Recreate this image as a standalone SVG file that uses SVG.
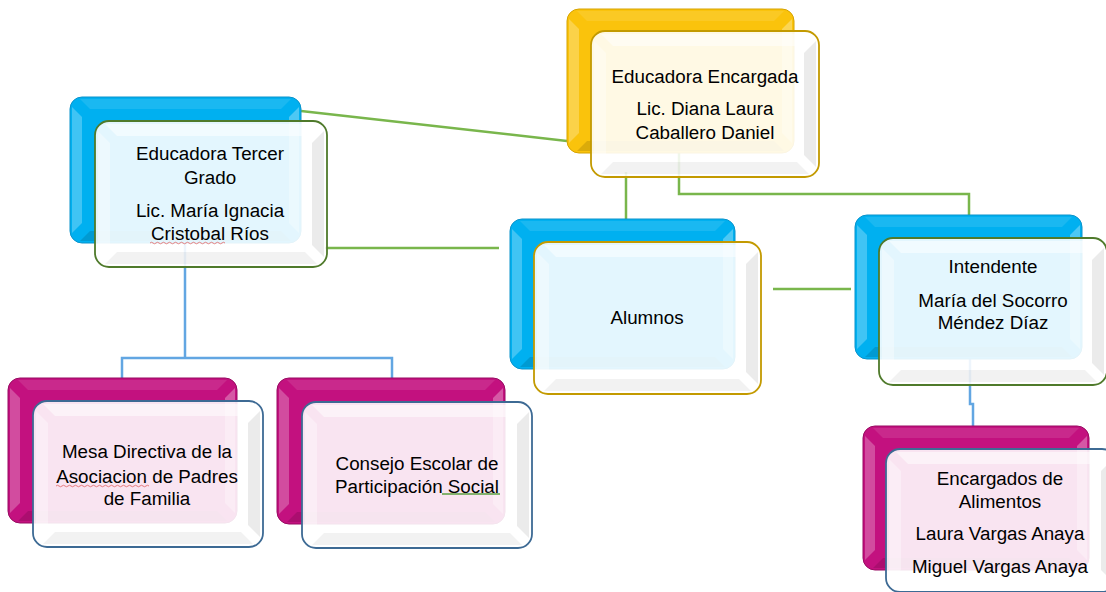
<svg xmlns="http://www.w3.org/2000/svg" width="1106" height="592" viewBox="0 0 1106 592">
<style>
.bk{stroke-width:1}
.b-blue{fill:#00b0f0;stroke:#0a93cb}
.b-gold{fill:#fac30c;stroke:#d6a300}
.b-mag{fill:#c3117f;stroke:#980b62}
.bl{fill:#fff;opacity:.25}
.br{fill:#fff;opacity:.3}
.bt{fill:#fff;opacity:.1}
.bb{fill:#000;opacity:.12}
.fr{fill:#fff;fill-opacity:.89;stroke-width:1.8}
.f-gold{stroke:#c39a00}
.f-green{stroke:#4f7a2b}
.f-blue{stroke:#3d6a94}
.fR{fill:#000;opacity:.08}
.fB{fill:#000;opacity:.05}
.fT{fill:#fff;opacity:.5}
.fL{fill:#fff;opacity:.35}
.lbl{font-family:'Liberation Sans',Arial,sans-serif;font-size:18.8px;fill:#000;text-anchor:middle}
.cg{stroke:#79b64c;stroke-width:2.5;fill:none}
.cb{stroke:#62a6e2;stroke-width:2.5;fill:none}
.wr{stroke:#e06060;stroke-width:1;fill:none;opacity:.8}
.wg{stroke:#5aa040;stroke-width:1.5;fill:none}
</style>
<rect width="1106" height="592" fill="#fff"/>
<g id="connectors">
<path class="cg" d="M301,111 L567,141"/>
<path class="cg" d="M626,172 V219"/>
<path class="cg" d="M679,150 V194 H969 V215"/>
<path class="cg" d="M325,248 H499"/>
<path class="cg" d="M773,289 H851"/>
<path class="cb" d="M185,243 V358 M122,378 V358 H392 V378"/>
<path class="cb" d="M970,359 V404 H973 V426"/>
</g>
<g id="node-educadora-encargada">
<rect class="bk b-gold" x="567" y="9" width="227" height="144" rx="12"/>
<path class="bl" d="M569,19 l10,10 v104 l-10,10 z"/>
<path class="br" d="M792,19 l-10,10 v104 l10,10 z"/>
<path class="bt" d="M577,11 l10,10 h187 l10,-10 z"/>
<path class="bb" d="M577,151 l10,-10 h187 l10,10 z"/>
<rect class="fr f-gold" x="591" y="31" width="228" height="146" rx="14"/>
<path class="fR" d="M816,41 l-12,12 v102 l12,12 z"/>
<path class="fB" d="M601,174 l12,-12 h184 l12,12 z"/>
<path class="fT" d="M601,34 l12,12 h184 l12,-12 z"/>
<path class="fL" d="M594,41 l12,12 v102 l-12,12 z"/>
<text class="lbl" x="705" y="83">Educadora Encargada</text>
<text class="lbl" x="705" y="115">Lic. Diana Laura</text>
<text class="lbl" x="705" y="139">Caballero Daniel</text>
</g>
<g id="node-educadora-tercer-grado">
<rect class="bk b-blue" x="70" y="97" width="231" height="146" rx="12"/>
<path class="bl" d="M72,107 l10,10 v106 l-10,10 z"/>
<path class="br" d="M299,107 l-10,10 v106 l10,10 z"/>
<path class="bt" d="M80,99 l10,10 h191 l10,-10 z"/>
<path class="bb" d="M80,241 l10,-10 h191 l10,10 z"/>
<rect class="fr f-green" x="95" y="121" width="232" height="146" rx="14"/>
<path class="fR" d="M324,131 l-12,12 v102 l12,12 z"/>
<path class="fB" d="M105,264 l12,-12 h188 l12,12 z"/>
<path class="fT" d="M105,124 l12,12 h188 l12,-12 z"/>
<path class="fL" d="M98,131 l12,12 v102 l-12,12 z"/>
<text class="lbl" x="210" y="160">Educadora Tercer</text>
<text class="lbl" x="210" y="184">Grado</text>
<text class="lbl" x="210" y="217">Lic. María Ignacia</text>
<text class="lbl" x="210" y="240">Cristobal Ríos</text>
<path class="wr" d="M150,243 q1.5,-1.5 3,0 t3,0 t3,0 t3,0 t3,0 t3,0 t3,0 t3,0 t3,0 t3,0 t3,0 t3,0 t3,0 t3,0 t3,0 t3,0 t3,0 t3,0 t3,0 t3,0 t3,0 t3,0 t3,0 t3,0 t3,0"/>
</g>
<g id="node-alumnos">
<rect class="bk b-blue" x="510" y="219" width="225" height="150" rx="12"/>
<path class="bl" d="M512,229 l10,10 v110 l-10,10 z"/>
<path class="br" d="M733,229 l-10,10 v110 l10,10 z"/>
<path class="bt" d="M520,221 l10,10 h185 l10,-10 z"/>
<path class="bb" d="M520,367 l10,-10 h185 l10,10 z"/>
<rect class="fr f-gold" x="534" y="242" width="227" height="152" rx="14"/>
<path class="fR" d="M758,252 l-12,12 v108 l12,12 z"/>
<path class="fB" d="M544,391 l12,-12 h183 l12,12 z"/>
<path class="fT" d="M544,245 l12,12 h183 l12,-12 z"/>
<path class="fL" d="M537,252 l12,12 v108 l-12,12 z"/>
<text class="lbl" x="647" y="324">Alumnos</text>
</g>
<g id="node-intendente">
<rect class="bk b-blue" x="855" y="215" width="227" height="144" rx="12"/>
<path class="bl" d="M857,225 l10,10 v104 l-10,10 z"/>
<path class="br" d="M1080,225 l-10,10 v104 l10,10 z"/>
<path class="bt" d="M865,217 l10,10 h187 l10,-10 z"/>
<path class="bb" d="M865,357 l10,-10 h187 l10,10 z"/>
<rect class="fr f-green" x="879" y="238" width="228" height="147" rx="14"/>
<path class="fR" d="M1104,248 l-12,12 v103 l12,12 z"/>
<path class="fB" d="M889,382 l12,-12 h184 l12,12 z"/>
<path class="fT" d="M889,241 l12,12 h184 l12,-12 z"/>
<path class="fL" d="M882,248 l12,12 v103 l-12,12 z"/>
<text class="lbl" x="993" y="273">Intendente</text>
<text class="lbl" x="993" y="307">María del Socorro</text>
<text class="lbl" x="993" y="329">Méndez Díaz</text>
</g>
<g id="node-mesa-directiva">
<rect class="bk b-mag" x="8" y="378" width="229" height="145" rx="12"/>
<path class="bl" d="M10,388 l10,10 v105 l-10,10 z"/>
<path class="br" d="M235,388 l-10,10 v105 l10,10 z"/>
<path class="bt" d="M18,380 l10,10 h189 l10,-10 z"/>
<path class="bb" d="M18,521 l10,-10 h189 l10,10 z"/>
<rect class="fr f-blue" x="33" y="401" width="230" height="146" rx="14"/>
<path class="fR" d="M260,411 l-12,12 v102 l12,12 z"/>
<path class="fB" d="M43,544 l12,-12 h186 l12,12 z"/>
<path class="fT" d="M43,404 l12,12 h186 l12,-12 z"/>
<path class="fL" d="M36,411 l12,12 v102 l-12,12 z"/>
<text class="lbl" x="147" y="458">Mesa Directiva de la</text>
<text class="lbl" x="147" y="483">Asociacion de Padres</text>
<text class="lbl" x="147" y="505">de Familia</text>
<path class="wr" d="M56,486 q1.5,-1.5 3,0 t3,0 t3,0 t3,0 t3,0 t3,0 t3,0 t3,0 t3,0 t3,0 t3,0 t3,0 t3,0 t3,0 t3,0 t3,0 t3,0 t3,0 t3,0 t3,0 t3,0 t3,0 t3,0 t3,0 t3,0 t3,0 t3,0 t3,0 t3,0 t3,0 t3,0"/>
</g>
<g id="node-consejo-escolar">
<rect class="bk b-mag" x="277" y="378" width="228" height="146" rx="12"/>
<path class="bl" d="M279,388 l10,10 v106 l-10,10 z"/>
<path class="br" d="M503,388 l-10,10 v106 l10,10 z"/>
<path class="bt" d="M287,380 l10,10 h188 l10,-10 z"/>
<path class="bb" d="M287,522 l10,-10 h188 l10,10 z"/>
<rect class="fr f-blue" x="302" y="402" width="230" height="146" rx="14"/>
<path class="fR" d="M529,412 l-12,12 v102 l12,12 z"/>
<path class="fB" d="M312,545 l12,-12 h186 l12,12 z"/>
<path class="fT" d="M312,405 l12,12 h186 l12,-12 z"/>
<path class="fL" d="M305,412 l12,12 v102 l-12,12 z"/>
<text class="lbl" x="417" y="470">Consejo Escolar de</text>
<text class="lbl" x="417" y="493">Participación Social</text>
<path class="wg" d="M442,494 H500"/>
</g>
<g id="node-encargados-alimentos">
<rect class="bk b-mag" x="863" y="426" width="226" height="144" rx="12"/>
<path class="bl" d="M865,436 l10,10 v104 l-10,10 z"/>
<path class="br" d="M1087,436 l-10,10 v104 l10,10 z"/>
<path class="bt" d="M873,428 l10,10 h186 l10,-10 z"/>
<path class="bb" d="M873,568 l10,-10 h186 l10,10 z"/>
<rect class="fr f-blue" x="886" y="449" width="230" height="143" rx="14"/>
<path class="fR" d="M1113,459 l-12,12 v99 l12,12 z"/>
<path class="fT" d="M896,452 l12,12 h186 l12,-12 z"/>
<path class="fL" d="M889,459 l12,12 v99 l-12,12 z"/>
<text class="lbl" x="1000" y="485">Encargados de</text>
<text class="lbl" x="1000" y="508">Alimentos</text>
<text class="lbl" x="1000" y="540">Laura Vargas Anaya</text>
<text class="lbl" x="1000" y="573">Miguel Vargas Anaya</text>
</g>
</svg>
